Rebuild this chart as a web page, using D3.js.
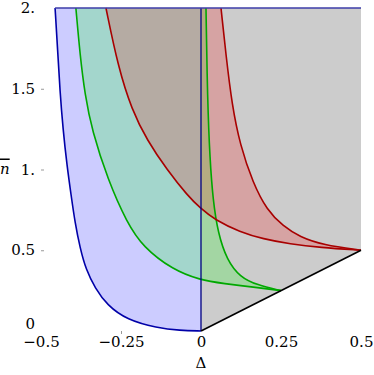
<!DOCTYPE html>
<html>
<head>
<meta charset="utf-8">
<script src="https://cdn.jsdelivr.net/npm/d3@7"></script>
<style>
body{margin:0;background:#fff;}
</style>
</head>
<body>
<svg width="374" height="375"></svg>
<script>
// curves, [delta, nbar]
var blueLeft=[[-0.456,2],[-0.448,1.74],[-0.441,1.492],[-0.431,1.245],[-0.419,1.028],[-0.406,0.842],[-0.394,0.675],[-0.378,0.514],[-0.359,0.378],[-0.331,0.266],[-0.294,0.161],[-0.231,0.068],[-0.1375,0.019],[-0.066,0.003],[0,0]];
var greenLeft=[[-0.391,2],[-0.378,1.709],[-0.3625,1.461],[-0.341,1.245],[-0.291,0.935],[-0.231,0.669],[-0.181,0.52],[-0.0875,0.378],[-0.003,0.316],[0.069,0.294],[0.175,0.269],[0.25,0.25]];
var greenRight=[[0.25,0.25],[0.175,0.285],[0.122,0.334],[0.081,0.44],[0.053,0.607],[0.0375,0.811],[0.028,1.059],[0.0203,1.43],[0.0156,2]];
var redLeft=[[-0.297,2],[-0.259,1.635],[-0.216,1.368],[-0.169,1.183],[-0.106,0.997],[-0.041,0.836],[-0.003,0.762],[0.044,0.687],[0.122,0.613],[0.194,0.57],[0.278,0.539],[0.372,0.517],[0.5,0.5]];
var redRight=[[0.5,0.5],[0.381,0.533],[0.309,0.582],[0.256,0.65],[0.206,0.749],[0.1625,0.916],[0.122,1.152],[0.097,1.399],[0.078,1.709],[0.0625,2]];
var grayEdge=[[0,0],[0.5,0.5]];

var xTicks=[-0.5,-0.25,0,0.25,0.5];
var xTickLabels=["\u22120.5","\u22120.25","0","0.25","0.5"];
var yTicks=[0,0.5,1,1.5,2];
var yTickLabels=["0","0.5","1.","1.5","2."];

var svg=d3.select("svg");
var serif="DejaVu Serif";

var x=d3.scaleLinear().domain([-0.5,0.5]).range([41,361]);
var y=d3.scaleLinear().domain([0,2]).range([331,8]);

var line=d3.line()
  .x(function(d){return x(d[0]);})
  .y(function(d){return y(d[1]);})
  .curve(d3.curveBasis);
var straight=d3.line()
  .x(function(d){return x(d[0]);})
  .y(function(d){return y(d[1]);});

// regions
var grayArea=grayEdge.concat([[0.5,2],[0,2]]);
svg.append("path").attr("d",straight(grayArea)+"Z")
  .attr("fill","#000").attr("fill-opacity",0.2);

svg.append("path").attr("d",line(blueLeft)+"L"+x(0)+","+y(2)+"Z")
  .attr("fill","#00f").attr("fill-opacity",0.2);

svg.append("path").attr("d",line(greenLeft)+line(greenRight).replace("M","L")+"Z")
  .attr("fill","#0f0").attr("fill-opacity",0.2);

svg.append("path").attr("d",line(redLeft)+line(redRight).replace("M","L")+"Z")
  .attr("fill","#f00").attr("fill-opacity",0.2);

// boundaries
svg.append("path").attr("d",line(blueLeft)).attr("fill","none").attr("stroke","#0000a8").attr("stroke-width",1.6);
svg.append("path").attr("d",line(greenLeft)).attr("fill","none").attr("stroke","#00a800").attr("stroke-width",1.6);
svg.append("path").attr("d",line(greenRight)).attr("fill","none").attr("stroke","#00a800").attr("stroke-width",1.6);
svg.append("path").attr("d",line(redLeft)).attr("fill","none").attr("stroke","#a80000").attr("stroke-width",1.6);
svg.append("path").attr("d",line(redRight)).attr("fill","none").attr("stroke","#a80000").attr("stroke-width",1.6);
svg.append("path").attr("d",straight([[0,0],[0,2]])).attr("stroke","#000080").attr("stroke-width",1.3);
svg.append("path").attr("d",straight(grayEdge)).attr("stroke","#000").attr("stroke-width",1.6);
svg.append("path").attr("d",straight([blueLeft[0],[0.5,2]])).attr("stroke","#3c3ca8").attr("stroke-width",1.3);

// axes
var xAxis=svg.append("g").attr("transform","translate(0,"+y(0)+")")
  .call(d3.axisBottom(x).tickValues(xTicks).tickSize(3).tickPadding(2)
    .tickFormat(function(d,i){return xTickLabels[i];}));
var yAxis=svg.append("g").attr("transform","translate("+x(-0.5)+",0)")
  .call(d3.axisLeft(y).tickValues(yTicks).tickSize(3).tickPadding(3)
    .tickFormat(function(d,i){return yTickLabels[i];}));
xAxis.attr("font-family",serif).attr("font-size",15);
yAxis.attr("font-family",serif).attr("font-size",15);
svg.selectAll(".domain").remove();
svg.selectAll(".tick line").attr("stroke","#999");
svg.selectAll(".tick text").attr("fill","#000");
yAxis.selectAll(".tick text").attr("dy","0.3em");
yAxis.selectAll(".tick").filter(function(d){return d==0;}).select("text").attr("dy","-0.15em");
yAxis.selectAll(".tick line").attr("x2",3).attr("x1",0);
yAxis.selectAll(".tick").filter(function(d){return d==0||d==2;}).select("line").remove();
xAxis.selectAll(".tick").filter(function(d){return d!=-0.25;}).select("line").remove();

svg.append("text").attr("x",x(0)).attr("y",368).attr("text-anchor","middle")
  .attr("font-family",serif).attr("font-size",15).text("\u0394");
svg.append("text").attr("x",0).attr("y",y(1)+4).attr("font-size",15)
  .attr("font-family",serif).attr("font-style","italic")
  .style("text-decoration","overline").text("n");
</script>
</body>
</html>
